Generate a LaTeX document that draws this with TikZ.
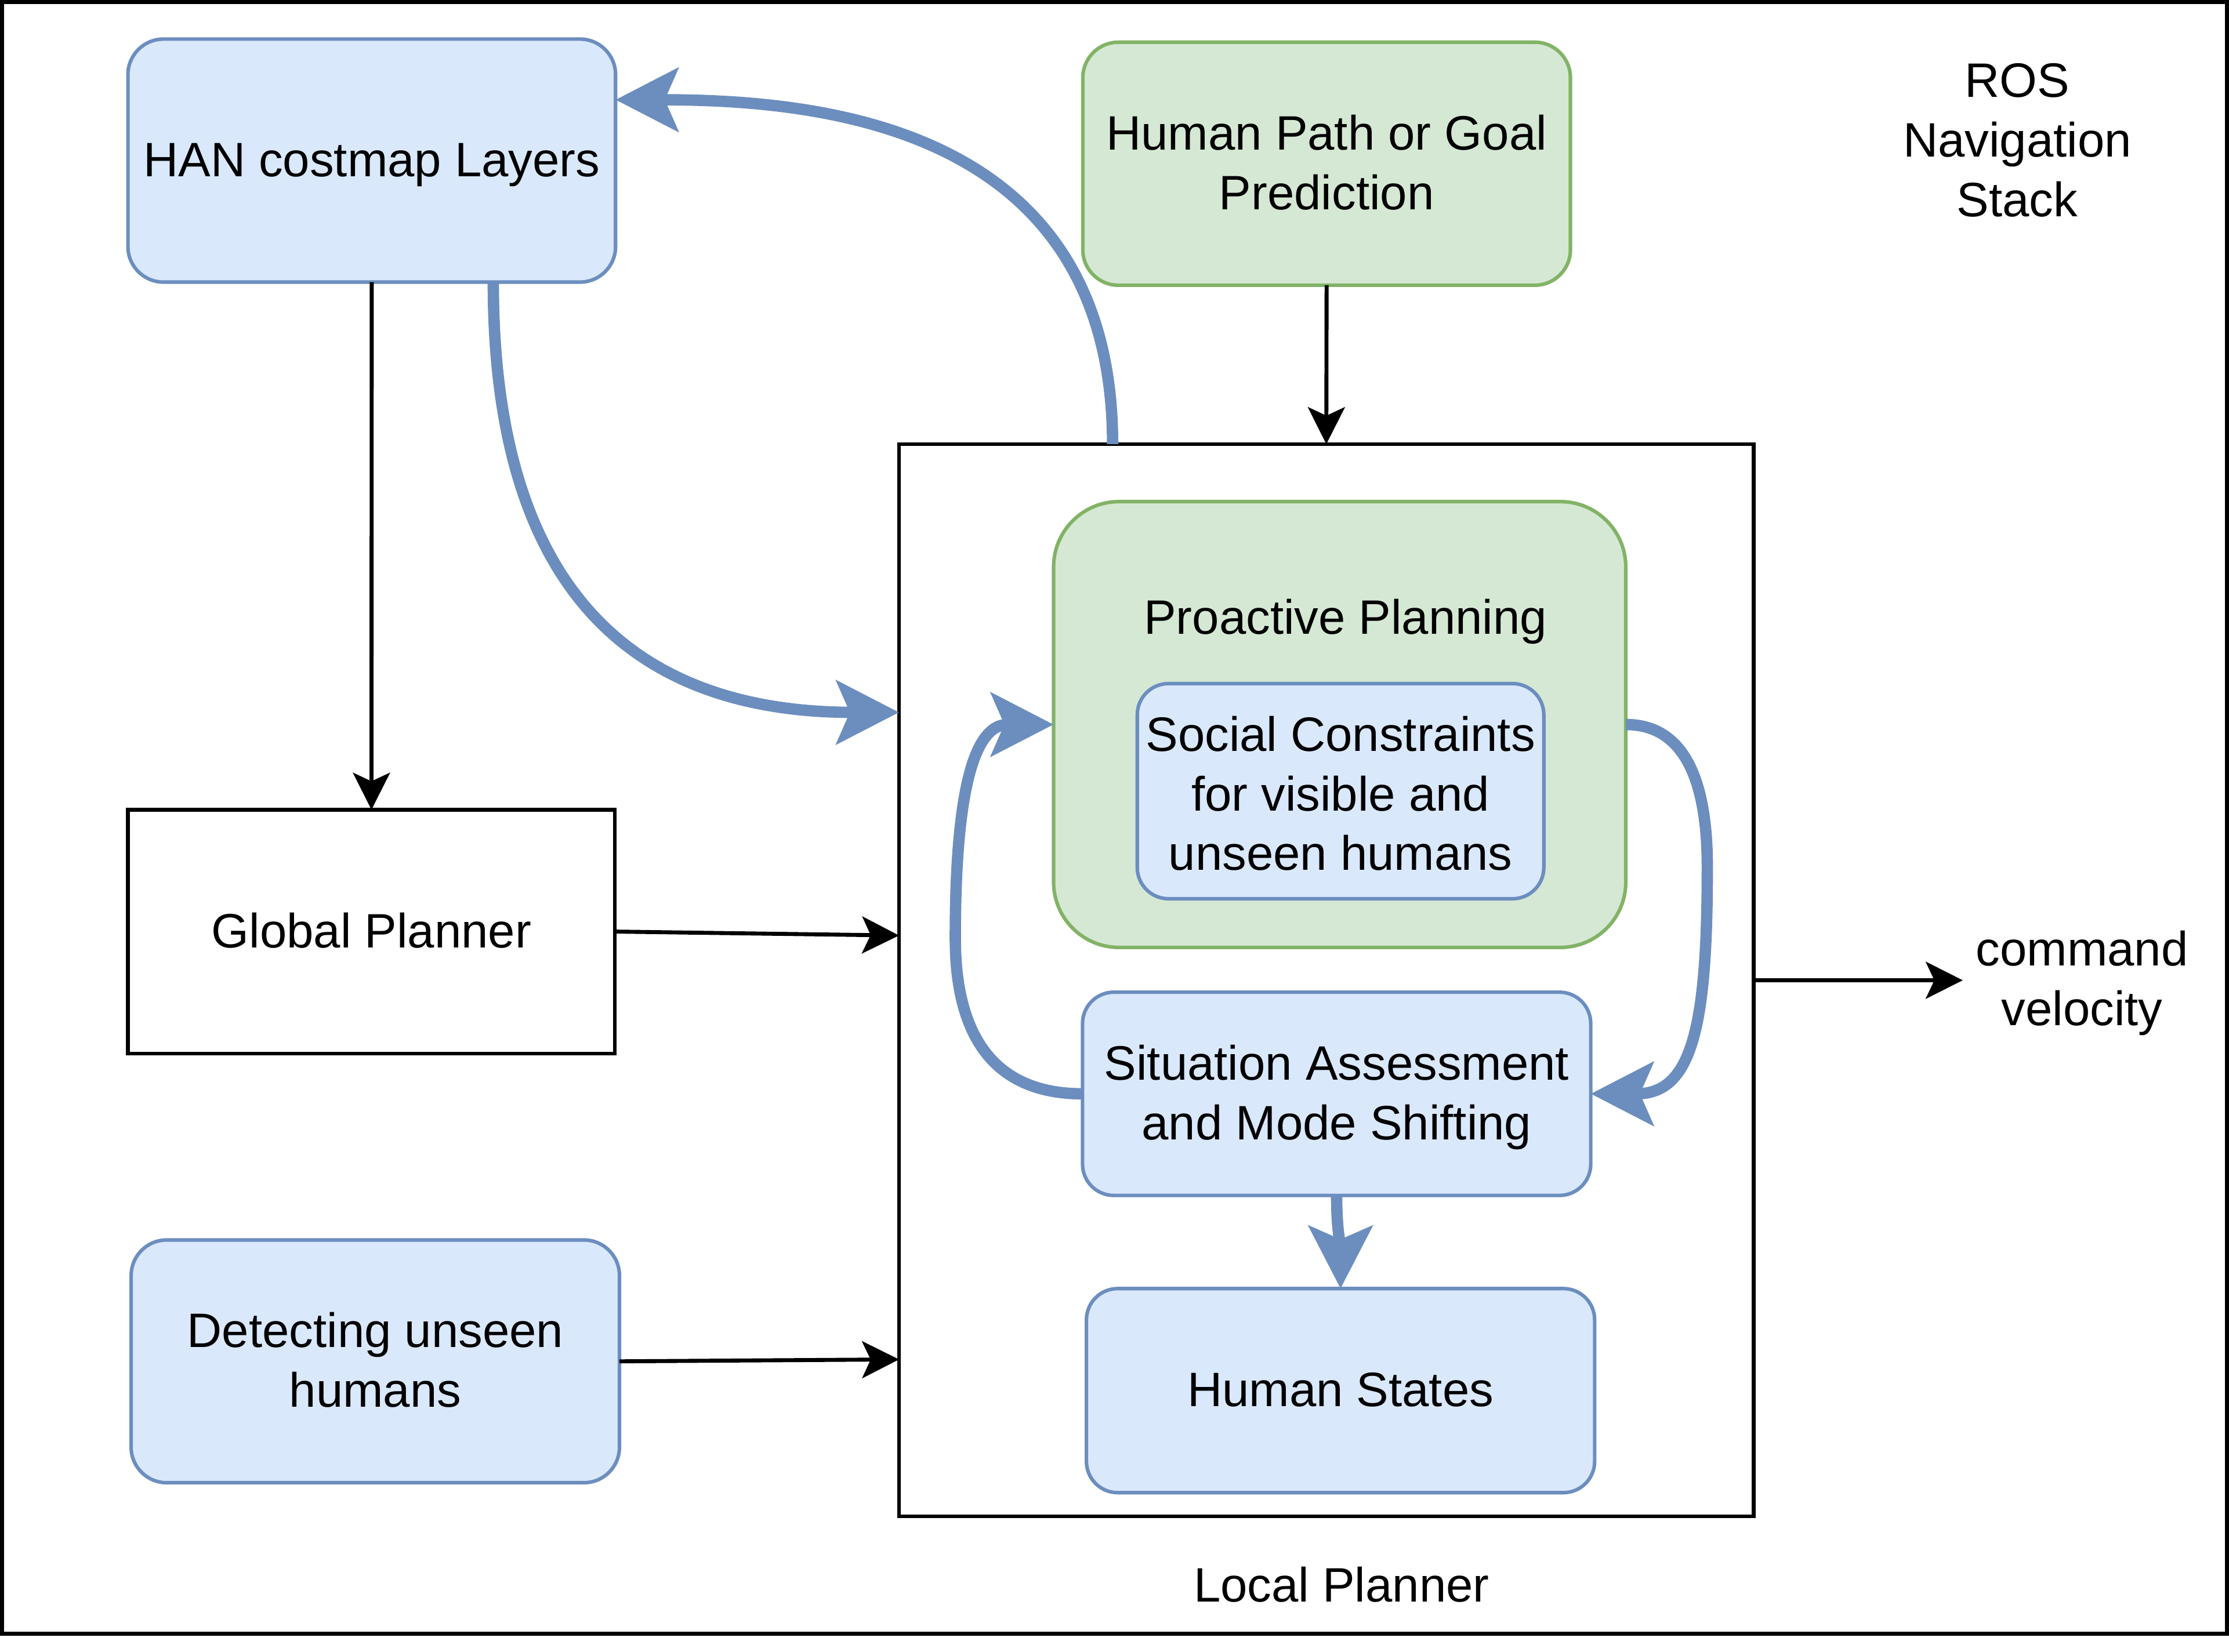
\documentclass[tikz,border=0pt]{standalone}
\usepackage{fontspec}
\setmainfont{Liberation Sans}
\usepackage{array}
\usetikzlibrary{arrows.meta,calc}
\definecolor{bluefill}{HTML}{DAE8FC}
\definecolor{bluedraw}{HTML}{6C8EBF}
\definecolor{greenfill}{HTML}{D5E8D4}
\definecolor{greendraw}{HTML}{82B366}
\newcommand\mystrut{\rule[-4.9pt]{0pt}{21pt}}
\newcommand\ml[1]{{\renewcommand\arraystretch{0}\begin{tabular}{@{}>{\mystrut}c@{}}#1\end{tabular}}}
\begin{document}
\begin{tikzpicture}[x=0.5pt,y=-0.5pt,
  font=\fontsize{17}{21}\selectfont,
  box/.style={inner sep=0pt, outer sep=0pt, line width=1.25pt},
  bluebox/.style={box, draw=bluedraw, fill=bluefill, rounded corners=12.5pt},
  greenbox/.style={box, draw=greendraw, fill=greenfill, rounded corners=12.5pt},
  blackbox/.style={box, draw=black, line width=1.3pt},
  txt/.style={inner sep=0pt, outer sep=0pt},
  blackarrow/.style={draw=black, line width=1.4pt, -{Stealth[length=13pt,width=13pt,inset=3pt]}},
  bluearrow/.style={draw=bluedraw, line width=4pt, -{Stealth[length=22pt,width=22.3pt,inset=4.7pt]}}]
\useasboundingbox (0,0) rectangle (1568,1162.4);
\draw[line width=1.43pt] (1.4,1.3) rectangle (1566.6,1149.5);

% boxes
\node[bluebox, minimum width=171.5pt, minimum height=85.5pt] (han) at (261.5,113) {\ml{HAN costmap Layers}};
\node[greenbox, minimum width=171.5pt, minimum height=85.5pt] (hpath) at (933.2,115.2) {\ml{Human Path or Goal\\Prediction}};
\node[txt] (ros) at (1419.1,99.2) {\ml{ROS\\Navigation\\Stack}};
\node[blackbox, minimum width=300.55pt, minimum height=377.25pt] (local) at (933,689.75) {};
\node[greenbox, rounded corners=23pt, minimum width=201.25pt, minimum height=156.85pt] (pp) at (942.4,509.8) {};
\node[txt] (ppt) at (946.5,434.8) {\ml{Proactive Planning}};
\node[bluebox, rounded corners=11pt, minimum width=143pt, minimum height=75.7pt] (soc) at (943,556.7) {\raisebox{0pt}[\height][\dimexpr\depth-2.5pt\relax]{\ml{Social Constraints\\for visible and\\unseen humans}}};
\node[bluebox, rounded corners=11pt, minimum width=178.75pt, minimum height=71.5pt] (sit) at (940.25,769.65) {\ml{Situation Assessment\\and Mode Shifting}};
\node[bluebox, rounded corners=11pt, minimum width=178.75pt, minimum height=71.8pt] (hs) at (943,978.5) {\ml{Human States}};
\node[blackbox, minimum width=171.3pt, minimum height=85.75pt] (gp) at (261.3,655.5) {\ml{Global Planner}};
\node[bluebox, minimum width=171.75pt, minimum height=85.4pt] (det) at (264,957.9) {\ml{Detecting unseen\\humans}};
\node[txt] (cmd) at (1464.6,689.3) {\ml{command\\velocity}};
\node[txt] (lpl) at (943.7,1116.1) {\ml{Local Planner}};

% black connectors
\coordinate (cmdtip) at (1380.7,689.75);
\draw[blackarrow] (han.south) -- (gp.north);
\draw[blackarrow] (hpath.south) -- (local.north);
\draw[blackarrow] (gp.east) -- ($(local.west)+(0,-31.5)$);
\draw[blackarrow] (det.east) -- ($(local.west)+(0,266.8)$);
\draw[blackarrow] (local.east) -- (cmdtip);

% blue connectors
\coordinate (lm) at (672,660);
\coordinate (rm) at (1201,610);
\draw[bluearrow] ($(local.north west)+(150.2,0)$) .. controls +(0,-222.5) and +(147,0) .. ($(han.east)+(0,-42.8)$);
\draw[bluearrow] ($(han.south)+(85.5,0)$) .. controls +(0,221.5) and +(-182.4,0) .. ($(local.west)+(0,-188.5)$);
\draw[bluearrow] (sit.west) .. controls +(-61.5,0) and +(0,70) .. (lm) .. controls +(0,-80) and +(-61.3,0) .. (pp.west);
\draw[bluearrow] (pp.east) .. controls +(36,0) and +(0,-70) .. (rm) .. controls +(0,110) and +(72,0) .. (sit.east);
\draw[bluearrow] (sit.south) .. controls +(0,25) and +(0,-30) .. (hs.north);
\end{tikzpicture}
\end{document}
